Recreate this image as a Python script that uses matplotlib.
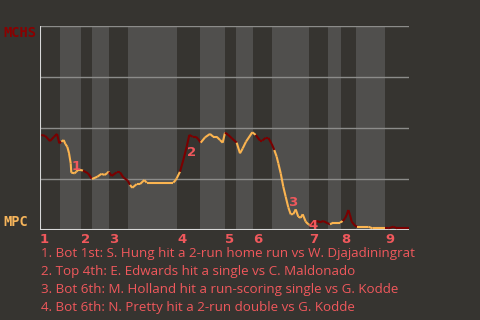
import numpy as np
import matplotlib
matplotlib.use("Agg")
import matplotlib.pyplot as plt
from matplotlib.collections import LineCollection

# win probability for MCHS (percent) along the game, x = progress through the game
pos = [1.3, 5.3, 10, 14, 17, 19.3, 21.3, 23.7, 25.3, 27.3, 29, 30.7, 31.3, 34.7, 36.3, 38, 40.7,
       43, 48, 52, 57.3, 61.3, 64.7, 67, 68.7,
       69, 71.7, 76.7, 80, 83.3, 87.7,
       90, 92.3, 96.7, 100, 104.3, 106.7, 111.7, 133.3, 135.7,
       136.7, 140, 143.3, 146.7, 149.3, 152.7, 156, 158.3,
       160.7, 165, 170, 173.3, 176.7, 180, 182.7, 185,
       188.3, 191.7, 196.7,
       200, 202.7, 206, 212.3,
       215.7, 220, 222.3, 225.7, 228.3, 231.7,
       234.3, 236.7, 238.3, 240.7, 243.3, 245.7, 248.3, 250.7, 253.3, 255.7, 258.3, 260.7, 262.7, 265.7, 268.3,
       270, 273.3, 276.7, 280, 283.3, 287.3,
       290, 293.3, 300,
       302.7, 305, 306.7, 308.3, 310, 311.7, 315,
       317.3, 328.3, 332.7, 345,
       348.3, 353.3, 357.3, 370]
wp = [46.6, 46.1, 43.6, 45.7, 47.1, 42.5, 43.3, 44.1, 42.2, 40.8, 37.7, 32.7, 28.1, 27.8, 28.6, 29.4, 29.4,
      29.1, 27.8, 25.0, 26.1, 27.5, 27.0, 27.8, 28.6,
      28.3, 26.5, 28.3, 28.3, 25.8, 24.2,
      22.1, 20.7, 22.5, 22.5, 24.5, 23.2, 23.2, 23.2, 24.5,
      25.3, 28.6, 34.3, 40.8, 46.6, 45.7, 45.7, 44.5,
      42.8, 45.4, 47.1, 45.7, 45.7, 44.1, 42.8, 47.7,
      46.6, 45.0, 42.8,
      37.6, 40.0, 43.3, 47.9,
      46.6, 43.8, 43.8, 45.2, 45.2, 42.2,
      39.2, 35.9, 32.7, 27.8, 21.2, 16.3, 11.1, 7.7, 7.8, 10.1, 6.5, 6.0, 7.7, 4.1, 2.8,
      2.5, 3.8, 4.4, 3.8, 4.4, 3.4,
      2.8, 3.6, 3.6,
      4.4, 5.7, 7.4, 9.8, 7.4, 4.1, 2.1,
      1.6, 1.6, 0.8, 0.8,
      0.8, 1.6, 0.8, 0.8]

# start of each half inning (top, bottom, top, ...)
half_starts = [0, 20, 41, 52, 69, 88, 137, 160, 185, 196, 213, 232, 269, 288, 301, 316, 345]
x_end = 369

# key events: (position, win prob, label)
ev_pos = [35.7, 151.7, 252.3, 272.7]
ev_wp = [31.0, 38.2, 13.4, 2.1]
ev_lab = ["1", "2", "3", "4"]

notes = ["1. Bot 1st: S. Hung hit a 2-run home run vs W. Djajadiningrat",
         "2. Top 4th: E. Edwards hit a single vs C. Maldonado",
         "3. Bot 6th: M. Holland hit a run-scoring single vs G. Kodde",
         "4. Bot 6th: N. Pretty hit a 2-run double vs G. Kodde"]

bg = "#363430"
band = "#504f4d"
top_col = "#7a0000"
bot_col = "#fbb450"
pink = "#f0585c"

fig = plt.figure(figsize=(4.8, 3.2), dpi=100)
fig.patch.set_facecolor(bg)
ax = fig.add_axes([40/480, 1-230/320, 369/480, 204/320])
ax.set_facecolor(bg)
ax.set_xlim(0, x_end)
ax.set_ylim(0, 100)

edges = half_starts + [x_end]
for i in range(len(half_starts)):
    if i % 2 == 1:
        ax.axvspan(edges[i], edges[i+1], color=band, lw=0, zorder=0)

for y in [25, 50, 75, 100]:
    ax.axhline(y, color="#8c8c8a", lw=1, zorder=1)
ax.axhline(0, color="#d8d8d8", lw=1.5, zorder=1)
ax.axvline(0, color="#d8d8d8", lw=1.5, zorder=1)

# colour each segment by which half inning it starts in
pts = np.column_stack([pos, wp])
segs = np.stack([pts[:-1], pts[1:]], axis=1)
half_idx = np.searchsorted(half_starts, np.array(pos[:-1]), side="right") - 1
cols = [top_col if h % 2 == 0 else bot_col for h in half_idx]
ax.add_collection(LineCollection(segs, colors=cols, lw=1.5, zorder=3))

for x, y, t in zip(ev_pos, ev_wp, ev_lab):
    ax.text(x, y, t, color=pink, fontsize=9.5, fontweight="bold", ha="center", va="center",
            family="DejaVu Sans", zorder=4)

for k in range(9):
    ax.text(half_starts[2*k], -1.5, str(k+1), color=pink, fontsize=9.5, fontweight="bold",
            ha="left", va="top", family="DejaVu Sans")

for s in ax.spines.values():
    s.set_visible(False)
ax.set_xticks([])
ax.set_yticks([])

fig.text(3/480, 1-33/320, "MCHS", color="#8b0000", fontsize=9.8, fontweight="bold",
         family="DejaVu Sans Mono", va="center", ha="left")
fig.text(3/480, 1-222/320, "MPC", color="#f7b55b", fontsize=9.8, fontweight="bold",
         family="DejaVu Sans Mono", va="center", ha="left")

for i, line in enumerate(notes):
    fig.text(41/480, 1-(254+18*i)/320, line, color=pink, fontsize=9.6, family="Open Sans",
             va="center", ha="left")

fig.savefig("out.png", dpi=100, facecolor=bg)
